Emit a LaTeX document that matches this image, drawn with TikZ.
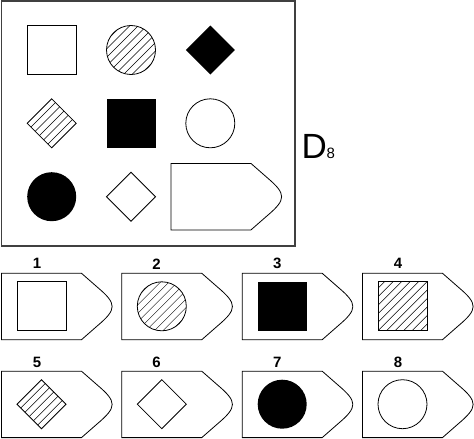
\documentclass[tikz,border=0pt]{standalone}
\usepackage{fontspec}
\setmainfont{Liberation Sans}
\begin{document}
\begin{tikzpicture}[x=1pt,y=-1pt]
\tikzset{
  ln/.style={draw=black, line width=0.8pt},
  framebox/.style={draw=black!75, line width=1.1pt},
  hatch/.style={draw=black, line width=0.45pt},
  lbl/.style={font=\bfseries\fontsize{15}{17}\selectfont, inner sep=0pt},
}
\newcommand\hatchlines[2]{\foreach \d in {-68,-59.5,...,68} \draw[hatch] ({#1+\d-30},{#2+30}) -- ({#1+\d+30},{#2-30});}
\newcommand\sqopen[2]{\draw[ln] ({#1-24.5},{#2-24.5}) rectangle ({#1+24.5},{#2+24.5});}
\newcommand\sqfill[2]{\fill[black] ({#1-24.5},{#2-24.5}) rectangle ({#1+24.5},{#2+24.5});}
\newcommand\sqhatch[2]{\begin{scope}\clip ({#1-24.5},{#2-24.5}) rectangle ({#1+24.5},{#2+24.5});\hatchlines{#1}{#2}\end{scope}\sqopen{#1}{#2}}
\newcommand\ciopen[2]{\draw[ln] (#1,#2) circle (24.5);}
\newcommand\cifill[2]{\fill[black] (#1,#2) circle (24.5);}
\newcommand\cihatch[2]{\begin{scope}\clip (#1,#2) circle (24.5);\hatchlines{#1}{#2}\end{scope}\ciopen{#1}{#2}}
\newcommand\dmpath[2]{({#1-24.5},#2) -- (#1,{#2-24.5}) -- ({#1+24.5},#2) -- (#1,{#2+24.5}) -- cycle}
\newcommand\dmopen[2]{\draw[ln] \dmpath{#1}{#2};}
\newcommand\dmfill[2]{\fill[black] \dmpath{#1}{#2};}
\newcommand\dmhatch[2]{\begin{scope}\clip \dmpath{#1}{#2};\hatchlines{#1}{#2}\end{scope}\dmopen{#1}{#2}}
\newcommand\tagbox[2]{\begin{scope}[shift={(#1,#2)}]
  \draw[ln] (0,0) -- (80,0) -- (96,14) .. controls (115.5,30.5) and (115.5,35.9) .. (96,52.4) -- (80,66.4) -- (0,66.4) -- cycle;
\end{scope}}
\useasboundingbox (0,0) rectangle (474,439);
\fill[white] (0,0) rectangle (474,439);
% main frame
\draw[framebox] (1.5,1) rectangle (295,246);
% 3x3 grid
\sqopen{51.7}{50}
\cihatch{131}{50}
\dmfill{210.3}{50}
\dmhatch{51.7}{123.3}
\sqfill{131}{123.3}
\ciopen{210.3}{123.3}
\cifill{51.7}{196.7}
\dmopen{131}{196.7}
\tagbox{171}{163.5}
% D8 label
\node[anchor=base west, inner sep=0pt, font=\fontsize{35}{40}\selectfont] (dlbl) at (301.3,158.5) {D};
\node[anchor=base west, inner sep=0pt, font=\fontsize{15}{17}\selectfont] (dsub) at (326.5,158.5) {8};
% answer options row 1
\tagbox{1.5}{273.3}   \sqopen{41.5}{306.3}
\tagbox{121.8}{273.3} \cihatch{161.8}{306.3}
\tagbox{242.2}{273.3} \sqfill{282.2}{306.3}
\tagbox{362.5}{273.3} \sqhatch{402.5}{306.3}
% answer options row 2
\tagbox{1.5}{371.2}   \dmhatch{41.5}{404.2}
\tagbox{121.8}{371.2} \dmopen{161.8}{404.2}
\tagbox{242.2}{371.2} \cifill{282.2}{404.2}
\tagbox{362.5}{371.2} \ciopen{402.5}{404.2}
% labels
\node[lbl] (l1) at (37,263.8) {1};
\node[lbl] (l2) at (156.5,263.8) {2};
\node[lbl] (l3) at (277.2,263.8) {3};
\node[lbl] (l4) at (398,263.8) {4};
\node[lbl] (l5) at (37,362.5) {5};
\node[lbl] (l6) at (156.5,362.5) {6};
\node[lbl] (l7) at (277.2,362.5) {7};
\node[lbl] (l8) at (398,362.5) {8};
\end{tikzpicture}
\end{document}
